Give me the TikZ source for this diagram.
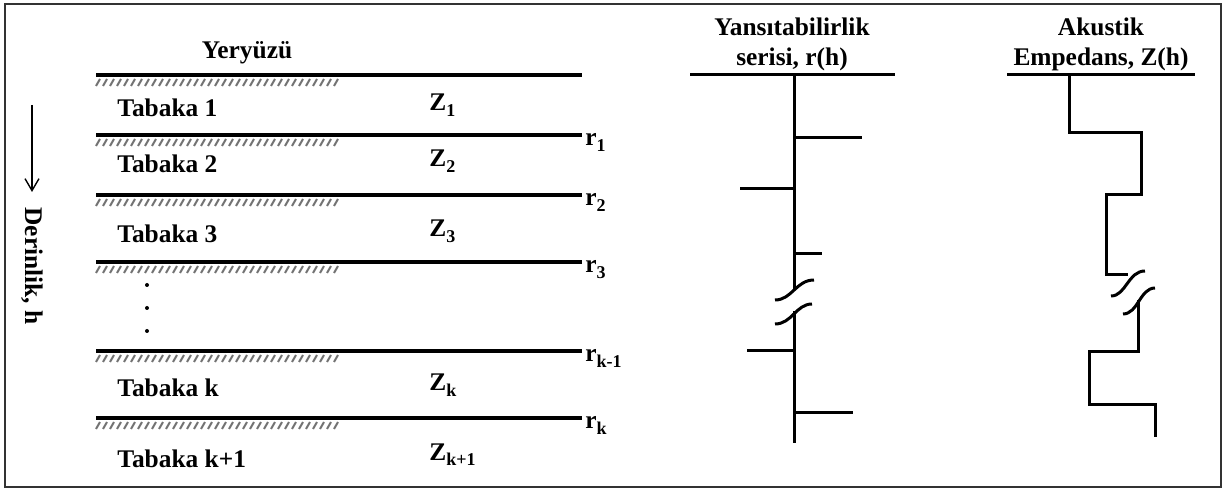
\documentclass[tikz,border=0pt]{standalone}
\usepackage{fontspec}
\setmainfont{Liberation Serif}
\usetikzlibrary{arrows.meta}
\newcommand{\lsub}[1]{\raisebox{-2.8pt}{\fontsize{9}{9}\selectfont\bfseries#1}}

\begin{document}
\begin{tikzpicture}[
x=0.5pt,y=-0.5pt,
lbl/.style={font=\fontsize{12.7}{15}\selectfont\bfseries,inner sep=0pt},
layer/.style={line width=1.8pt},
hatchline/.style={line width=1pt,draw=black!55},
trace/.style={line width=1.5pt}
]
\useasboundingbox (0,0) rectangle (1226,491);
\draw[line width=1pt,draw=black!80] (5,4) rectangle (1221,487);

% depth axis
\coordinate (d0) at (32,105); \coordinate (d1) at (32,192);
\draw[line width=0.7pt,-{Straight Barb[length=6pt,width=7pt]}] (d0) -- (d1);
\node[lbl,rotate=-90] (depth) at (32,266) {Derinlik, h};

% layers
\node[lbl,anchor=base] (surf) at (247,59) {Yeryüzü};
\foreach \yy/\lab [count=\i] in {75/{},135/{r\lsub{1}},195/{r\lsub{2}},262/{r\lsub{3}},351/{r\lsub{k-1}},418/{r\lsub{k}}}{
  \coordinate (L\i) at (96,\yy); \coordinate (R\i) at (582,\yy);
  \draw[layer] (L\i) -- (R\i);
  \foreach \xx in {96,103,...,336} \draw[hatchline] (\xx,\yy+11) -- (\xx+4,\yy+4);
  \node[lbl,anchor=base west] (r\i) at (585,\yy+11) {\lab};
}
\foreach \t/\yy [count=\i] in {1/117,2/173,3/243,k/397,k+1/467}
  \node[lbl,anchor=base west] (tab\i) at (117,\yy) {Tabaka \t};
\foreach \s/\yy [count=\i] in {1/111,2/167,3/237,k/391,k+1/460}
  \node[lbl,anchor=base west] (z\i) at (429,\yy) {Z\lsub{\s}};
\foreach \yy in {285,308,331} \fill (147,\yy) circle (2);

% reflectivity series
\node[lbl,anchor=south,align=center] (rhead) at (792,71) {Yansıtabilirlik\\serisi, r(h)};
\draw[trace] (690,75) -- (895,75);
\draw[trace] (794,75) -- (794,289);
\draw[trace] (794,311) -- (794,443);
\draw[trace] (775,300) .. controls (792,300) and (796,280) .. (814,280);
\draw[trace] (775,324) .. controls (792,324) and (796,304) .. (812,304);
\foreach \yy/\xx in {138/862,189/740,254/822,351/747,413/853}
  \draw[trace] (794,\yy) -- (\xx,\yy);

% acoustic impedance
\node[lbl,anchor=south,align=center] (zhead) at (1101,71) {Akustik\\Empedans, Z(h)};
\draw[trace] (1007,75) -- (1195,75);
\draw[trace] (1069,75) |- (1141,133) |- (1106,195) |- (1128,275);
\draw[trace] (1111,296) .. controls (1126,296) and (1128,271) .. (1145,271);
\draw[trace] (1123,314) .. controls (1138,314) and (1140,288) .. (1155,288);
\draw[trace] (1138,300) |- (1089,352) |- (1155,405) -- (1155,437);
\end{tikzpicture}
\end{document}
